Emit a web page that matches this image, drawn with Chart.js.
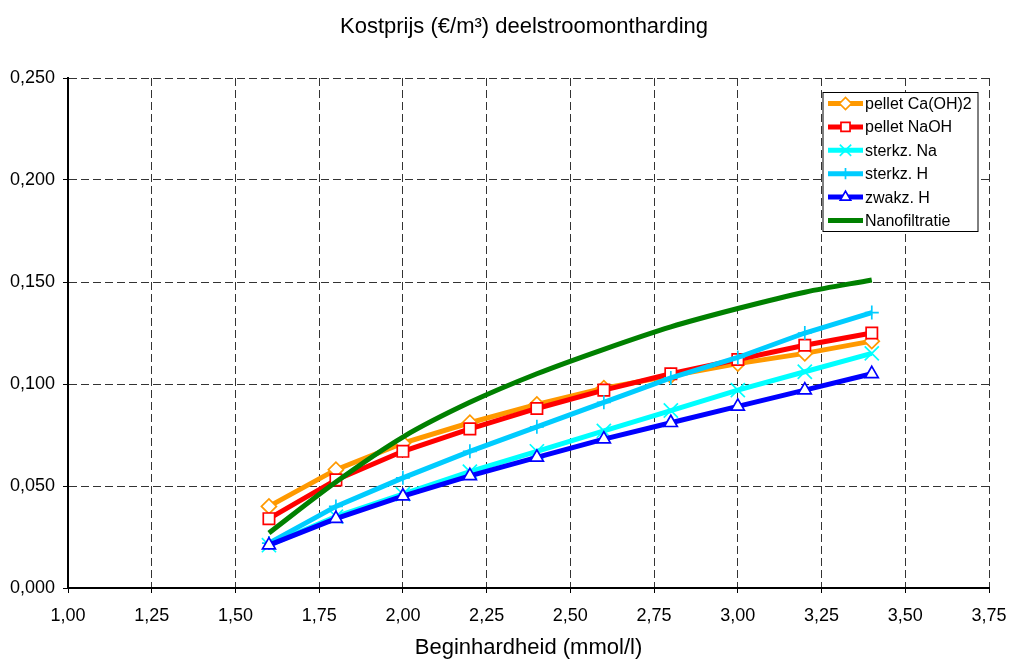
<!DOCTYPE html>
<html>
<head>
<meta charset="utf-8">
<script src="https://cdn.jsdelivr.net/npm/chart.js@4/dist/chart.umd.min.js"></script>
<style>
html,body{margin:0;padding:0;background:#fff;}
#wrap{width:1012px;height:661px;}
</style>
</head>
<body>
<div id="wrap"><canvas id="c" width="1012" height="661"></canvas></div>
<script>
const titleText = 'Kostprijs (€/m³) deelstroomontharding';
const xTitle = 'Beginhardheid (mmol/l)';
const hardness = [1.6, 1.8, 2.0, 2.2, 2.4, 2.6, 2.8, 3.0, 3.2, 3.4];
const seriesNames = ['pellet Ca(OH)2', 'pellet NaOH', 'sterkz. Na', 'sterkz. H', 'zwakz. H', 'Nanofiltratie'];
const pelletCaOH2 = [0.040, 0.058, 0.071, 0.081, 0.090, 0.098, 0.104, 0.110, 0.115, 0.121];
const pelletNaOH  = [0.034, 0.053, 0.067, 0.078, 0.088, 0.097, 0.105, 0.112, 0.119, 0.125];
const sterkzNa    = [0.021, 0.035, 0.046, 0.057, 0.067, 0.077, 0.087, 0.097, 0.106, 0.115];
const sterkzH     = [0.022, 0.040, 0.054, 0.067, 0.079, 0.091, 0.103, 0.113, 0.125, 0.135];
const zwakzH      = [0.021, 0.034, 0.045, 0.055, 0.064, 0.073, 0.081, 0.089, 0.097, 0.105];
const nanofiltratie = [0.027, 0.052, 0.074, 0.091, 0.105, 0.117, 0.128, 0.137, 0.145, 0.151];

const FONT = '"Liberation Sans", Arial, sans-serif';
const toXY = arr => arr.map((v, i) => ({x: hardness[i], y: v}));

const styles = [
  {color:'#FF9900', point:'rectRot', r:7.5, bg:'#FFFFFF', order:6, tension:0},
  {color:'#FF0000', point:'rect', r:8, bg:'#FFFFFF', order:5, tension:0},
  {color:'#00FFFF', point:'crossRot', r:10, bg:'#00FFFF', order:4, tension:0},
  {color:'#00CCFF', point:'cross', r:7, bg:'#00CCFF', order:3, tension:0},
  {color:'#0000FF', point:'triangle', r:7.5, bg:'#FFFFFF', order:2, tension:0},
  {color:'#008000', point:false, r:0, bg:'#008000', order:1, tension:0.4}
];
const seriesData = [pelletCaOH2, pelletNaOH, sterkzNa, sterkzH, zwakzH, nanofiltratie];

const datasets = seriesData.map((d, i) => ({
  label: seriesNames[i],
  data: toXY(d),
  borderColor: styles[i].color,
  backgroundColor: styles[i].bg,
  borderWidth: 5,
  pointStyle: styles[i].point,
  pointRadius: styles[i].r,
  pointBorderWidth: 1.7,
  pointBorderColor: styles[i].color,
  pointBackgroundColor: styles[i].bg,
  tension: styles[i].tension,
  cubicInterpolationMode: i === 5 ? 'monotone' : 'default',
  order: styles[i].order,
  fill: false
}));

const titlePlugin = {
  id: 'fixedTitle',
  afterDraw(chart) {
    const ctx = chart.ctx;
    ctx.save();
    ctx.fillStyle = '#000';
    ctx.font = '22px ' + FONT;
    ctx.textAlign = 'center';
    ctx.textBaseline = 'alphabetic';
    ctx.fillText(titleText, 524, 33);
    ctx.restore();
  }
};

const legendPlugin = {
  id: 'boxLegend',
  afterDraw(chart) {
    const ctx = chart.ctx;
    const left = 823, top = 92.5, w = 155, h = 139;
    ctx.save();
    ctx.fillStyle = '#FFFFFF';
    ctx.fillRect(left, top, w, h);
    ctx.strokeStyle = '#000000';
    ctx.lineWidth = 1;
    ctx.strokeRect(left, top, w, h);
    const rowH = 23.4;
    datasets.forEach((ds, i) => {
      const cy = top + 11 + i * rowH;
      ctx.strokeStyle = ds.borderColor;
      ctx.lineWidth = ds.borderWidth;
      ctx.beginPath();
      ctx.moveTo(828, cy);
      ctx.lineTo(863, cy);
      ctx.stroke();
      if (ds.pointStyle && Chart.helpers && Chart.helpers.drawPoint) {
        ctx.fillStyle = ds.pointBackgroundColor;
        ctx.strokeStyle = ds.pointBorderColor;
        ctx.lineWidth = ds.pointBorderWidth;
        Chart.helpers.drawPoint(ctx, {pointStyle: ds.pointStyle, radius: ds.pointRadius * 0.8, borderWidth: ds.pointBorderWidth, rotation: 0}, 845.5, cy);
      }
      ctx.fillStyle = '#000000';
      ctx.font = '16px ' + FONT;
      ctx.textBaseline = 'middle';
      ctx.textAlign = 'left';
      ctx.fillText(ds.label, 865, cy + 1);
    });
    ctx.restore();
  }
};

new Chart(document.getElementById('c'), {
  type: 'line',
  data: {datasets},
  options: {
    responsive: false,
    animation: false,
    layout: {padding: {left: 0, right: 23, top: 78, bottom: 0}},
    plugins: {
      legend: {display: false},
      tooltip: {enabled: false},
      title: {display: false}
    },
    scales: {
      x: {
        type: 'linear',
        min: 1.0, max: 3.75,
        afterFit(s) { s.height = 73; s.paddingLeft = 0; s.paddingRight = 0; },
        ticks: {
          stepSize: 0.25,
          color: '#000',
          font: {family: FONT, size: 18},
          padding: 12,
          maxRotation: 0,
          callback: v => v.toFixed(2).replace('.', ',')
        },
        grid: {color: '#333', lineWidth: 1, tickLength: 5, tickColor: '#000', tickBorderDash: []},
        border: {display: true, color: '#000', width: 2, dash: [8, 4]},
        title: {display: true, text: xTitle, color: '#000', font: {family: FONT, size: 22}, padding: {top: 0, bottom: 0}}
      },
      y: {
        min: 0, max: 0.25,
        afterFit(s) { s.width = 68; s.paddingTop = 0; s.paddingBottom = 0; },
        ticks: {
          stepSize: 0.05,
          color: '#000',
          font: {family: FONT, size: 18},
          padding: 8,
          callback: v => v.toFixed(3).replace('.', ',')
        },
        grid: {color: '#333', lineWidth: 1, tickLength: 5, tickColor: '#000', tickBorderDash: []},
        border: {display: true, color: '#000', width: 2, dash: [8, 4]}
      }
    }
  },
  plugins: [legendPlugin, titlePlugin]
});
</script>
</body>
</html>
